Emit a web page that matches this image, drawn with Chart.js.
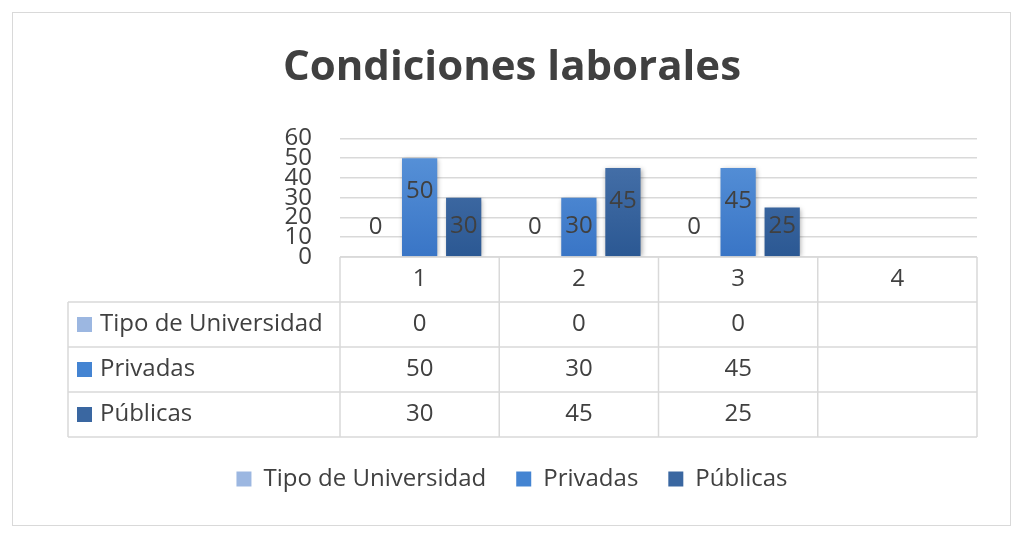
<!DOCTYPE html>
<html>
<head>
<meta charset="utf-8">
<script src="https://cdn.jsdelivr.net/npm/chart.js@4.4.0/dist/chart.umd.min.js"></script>
<style>
  html, body { margin: 0; padding: 0; background: #fff; }
  #frame { position: absolute; left: 12px; top: 12px; width: 997px; height: 512px; border: 1px solid #d9d9d9; }
  #wrap { position: absolute; left: 0; top: 0; width: 1024px; height: 542px; }
</style>
</head>
<body>
<div id="frame"></div>
<div id="wrap"><canvas id="chart" width="1024" height="542"></canvas></div>
<script>
// data
const categories = ['1', '2', '3', '4'];
const seriesNames = ['Tipo de Universidad', 'Privadas', 'Públicas'];
const tipoValues = [0, 0, 0, null];
const privadasValues = [50, 30, 45, null];
const publicasValues = [30, 45, 25, null];
const yTicks = [0, 10, 20, 30, 40, 50, 60];

const FONT = "'Open Sans', sans-serif";
const textColor = '#404040';
const lineColor = '#d9d9d9';
const keyColors = ['#9cb7e1', '#4484d2', '#3a67a1'];
const gradStops = [
  ['#a7c0e7', '#8aa9d8'],
  ['#5b95da', '#3975c6'],
  ['#4b75ad', '#2b5893']
];
const rowH = 45;
const labelColW = 272; // width of the table's name column

function grad(i) {
  return function (c) {
    const area = c.chart.chartArea;
    if (!area) return keyColors[i];
    const g = c.chart.ctx.createLinearGradient(0, area.top, 0, area.bottom);
    g.addColorStop(0, gradStops[i][0]);
    g.addColorStop(1, gradStops[i][1]);
    return g;
  };
}

// soft shadow under the bars + value labels inside them
const barLabels = {
  id: 'barLabels',
  beforeDatasetsDraw(chart) {
    const ctx = chart.ctx;
    ctx.save();
    ctx.shadowColor = 'rgba(0,0,0,0.35)';
    ctx.shadowBlur = 5;
    ctx.shadowOffsetX = 1;
    ctx.shadowOffsetY = 1;
  },
  afterDatasetsDraw(chart) {
    const ctx = chart.ctx;
    ctx.restore();
    ctx.save();
    ctx.font = '24px ' + FONT;
    ctx.fillStyle = textColor;
    ctx.textAlign = 'center';
    ctx.textBaseline = 'middle';
    chart.data.datasets.forEach((ds, di) => {
      chart.getDatasetMeta(di).data.forEach((bar, i) => {
        const v = ds.data[i];
        if (v === null) return;
        const y = Math.min(bar.y + 33, bar.base - 30);
        ctx.fillText(String(v), bar.x, y);
      });
    });
    ctx.restore();
  }
};

// data table under the plot
const dataTable = {
  id: 'dataTable',
  afterDraw(chart) {
    const ctx = chart.ctx;
    const x = chart.scales.x;
    const area = chart.chartArea;
    const left = area.left - labelColW;
    const top = area.bottom;
    const step = (area.right - area.left) / categories.length;
    ctx.save();
    ctx.strokeStyle = lineColor;
    ctx.lineWidth = 1.5;
    ctx.beginPath();
    // header row
    ctx.moveTo(area.left, top); ctx.lineTo(area.right, top);
    for (let r = 1; r <= seriesNames.length + 1; r++) {
      ctx.moveTo(left, top + r * rowH); ctx.lineTo(area.right, top + r * rowH);
    }
    for (let c = 0; c <= categories.length; c++) {
      const cx = area.left + c * step;
      ctx.moveTo(cx, top); ctx.lineTo(cx, top + (seriesNames.length + 1) * rowH);
    }
    ctx.moveTo(left, top + rowH); ctx.lineTo(left, top + (seriesNames.length + 1) * rowH);
    ctx.stroke();

    ctx.font = '24px ' + FONT;
    ctx.fillStyle = textColor;
    ctx.textBaseline = 'middle';
    chart.data.datasets.forEach((ds, di) => {
      const cy = top + (di + 1) * rowH + rowH / 2;
      ctx.fillStyle = keyColors[di];
      ctx.fillRect(left + 9, cy - 7.5, 15, 15);
      ctx.fillStyle = textColor;
      ctx.textAlign = 'left';
      ctx.fillText(ds.label, left + 32, cy);
      ctx.textAlign = 'center';
      ds.data.forEach((v, i) => {
        if (v === null) return;
        ctx.fillText(String(v), x.getPixelForValue(i), cy);
      });
    });
    ctx.restore();
  }
};

const ctx = document.getElementById('chart').getContext('2d');
const chart = new Chart(ctx, {
  type: 'bar',
  data: {
    labels: categories,
    datasets: [
      { label: seriesNames[0], data: tipoValues, backgroundColor: grad(0) },
      { label: seriesNames[1], data: privadasValues, backgroundColor: grad(1) },
      { label: seriesNames[2], data: publicasValues, backgroundColor: grad(2) }
    ]
  },
  options: {
    responsive: false,
    animation: false,
    devicePixelRatio: 1,
    categoryPercentage: 0.83,
    barPercentage: 0.8,
    layout: { padding: { left: 47, right: 47, top: 0, bottom: 41 } },
    plugins: {
      title: {
        display: true,
        text: 'Condiciones laborales',
        color: textColor,
        font: { family: FONT, size: 42, weight: 'bold' },
        padding: { top: 43, bottom: 45 }
      },
      legend: {
        position: 'bottom',
        labels: {
          color: textColor,
          font: { family: FONT, size: 24 },
          boxWidth: 15,
          boxHeight: 15,
          padding: 30,
          generateLabels: (c) => c.data.datasets.map((ds, i) => ({
            text: ds.label, fillStyle: keyColors[i], strokeStyle: keyColors[i],
            lineWidth: 0, hidden: false, datasetIndex: i, fontColor: textColor
          }))
        }
      },
      tooltip: { enabled: false }
    },
    scales: {
      x: {
        grid: { display: false, drawTicks: false },
        border: { display: false },
        ticks: { color: textColor, font: { family: FONT, size: 24 }, padding: 8 },
        afterFit: (s) => { s.height = 180; }
      },
      y: {
        min: 0,
        max: 60,
        afterBuildTicks: (s) => { s.ticks = yTicks.map(v => ({ value: v })); },
        grid: { color: lineColor, lineWidth: 1.5, drawTicks: false },
        border: { display: false },
        ticks: { color: textColor, font: { family: FONT, size: 24, lineHeight: 0.85 }, padding: 28, autoSkip: false },
        afterFit: (s) => { s.width = 293; }
      }
    }
  },
  plugins: [barLabels, dataTable]
});
</script>
</body>
</html>
